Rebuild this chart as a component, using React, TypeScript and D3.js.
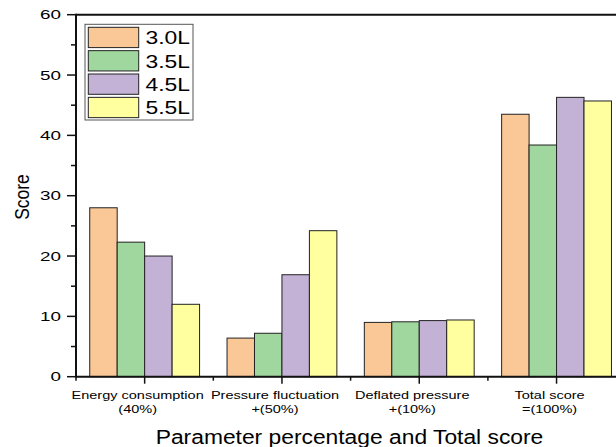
import React from "react";
import * as d3 from "d3";

const categories = ["Energy consumption|(40%)", "Pressure fluctuation|+(50%)", "Deflated pressure|+(10%)", "Total score|=(100%)"];
const seriesNames = ["3.0L", "3.5L", "4.5L", "5.5L"];
const s30 = [28.0, 6.4, 9.0, 43.5];
const s35 = [22.3, 7.2, 9.1, 38.4];
const s45 = [20.0, 16.9, 9.3, 46.3];
const s55 = [12.0, 24.2, 9.4, 45.7];
const seriesValues = [s30, s35, s45, s55];
const colors = ["#FAC896", "#A0D79E", "#C3B2D6", "#FFFFA0"];
const yTicks = [0, 10, 20, 30, 40, 50, 60];
const yMinor = [5, 15, 25, 35, 45, 55];

const W = 616;
const H = 447;
const FONT = "'Liberation Sans', Arial, sans-serif";

function T(props: { x: number; y: number; sx: number; size: number; anchor?: string; children: any; dy?: string }) {
  return (
    <text
      transform={`translate(${props.x},${props.y}) scale(${props.sx},1)`}
      fontSize={props.size}
      textAnchor={props.anchor || "start"}
      fontFamily={FONT}
      fill="#000"
      dy={props.dy}
    >
      {props.children}
    </text>
  );
}

export default function App() {
  const left = 76;
  const step = 137.3;
  const x0 = d3
    .scaleBand<string>()
    .domain(categories)
    .range([left, left + step * categories.length])
    .paddingInner(0.2)
    .paddingOuter(0.1);
  const x1 = d3.scaleBand<string>().domain(seriesNames).range([0, x0.bandwidth()]);
  const y = d3.scaleLinear().domain([0, 60]).range([376.7, 14.7]);
  const right = left + step * categories.length;
  const boundaries = d3.range(categories.length + 1).map((i) => left + i * x0.step());

  return (
    <svg width={W} height={H} style={{ position: "fixed", left: 0, top: 0, background: "#fff" }}>
      <rect x={0} y={0} width={W} height={H} fill="#fff" />
      {/* bars */}
      {categories.map((c, ci) =>
        seriesNames.map((s, si) => {
          const v = seriesValues[si][ci];
          const bx = (x0(c) as number) + (x1(s) as number);
          return (
            <rect
              key={c + s}
              x={bx}
              y={y(v)}
              width={x1.bandwidth()}
              height={y(0) - y(v)}
              fill={colors[si]}
              stroke="#222"
              strokeWidth={1}
            />
          );
        })
      )}
      {/* axes */}
      <line x1={left} x2={right} y1={y(60)} y2={y(60)} stroke="#111" strokeWidth={2} />
      <line x1={left} x2={right} y1={y(0)} y2={y(0)} stroke="#111" strokeWidth={2} />
      <line x1={left} x2={left} y1={y(60) - 1} y2={y(0) + 1} stroke="#111" strokeWidth={2} />
      {yTicks.map((t) => (
        <g key={"yt" + t}>
          <line x1={left - 9} x2={left} y1={y(t)} y2={y(t)} stroke="#111" strokeWidth={1.5} />
          <T x={61} y={y(t)} sx={1.45} size={13} anchor="end" dy="0.36em">
            {t}
          </T>
        </g>
      ))}
      {yMinor.map((t) => (
        <line key={"ym" + t} x1={left - 5} x2={left} y1={y(t)} y2={y(t)} stroke="#111" strokeWidth={1.5} />
      ))}
      {categories.map((c) => {
        const cx = (x0(c) as number) + x0.bandwidth() / 2;
        const [l1, l2] = c.split("|");
        return (
          <g key={"xt" + c}>
            <line x1={cx} x2={cx} y1={y(0)} y2={y(0) + 7} stroke="#111" strokeWidth={1.5} />
            <T x={cx - 7} y={399.3} sx={1.25} size={11.6} anchor="middle">
              {l1}
            </T>
            <T x={cx - 7} y={412.8} sx={1.25} size={11.6} anchor="middle">
              {l2}
            </T>
          </g>
        );
      })}
      {boundaries.map((b, i) => (
        <line key={"xb" + i} x1={b} x2={b} y1={y(0)} y2={y(0) + 4} stroke="#111" strokeWidth={1.5} />
      ))}
      {/* axis titles */}
      <T x={349.5} y={444} sx={1.17} size={19.5} anchor="middle">
        Parameter percentage and Total score
      </T>
      <text
        transform={`translate(28.5,197) scale(1.2,1) rotate(-90)`}
        fontSize={17.5}
        textAnchor="middle"
        fontFamily={FONT}
        fill="#000"
      >
        Score
      </text>
      {/* legend */}
      <rect x={85} y={24.3} width={108} height={95.7} fill="#fff" stroke="#555" strokeWidth={1} />
      {seriesNames.map((s, i) => {
        const ry = 27.3 + i * 23.35;
        return (
          <g key={"lg" + s}>
            <rect x={88.3} y={ry} width={50.4} height={20.3} fill={colors[i]} stroke="#222" strokeWidth={1} />
            <T x={145.5} y={ry + 17} sx={1.23} size={18.6}>
              {s}
            </T>
          </g>
        );
      })}
    </svg>
  );
}
